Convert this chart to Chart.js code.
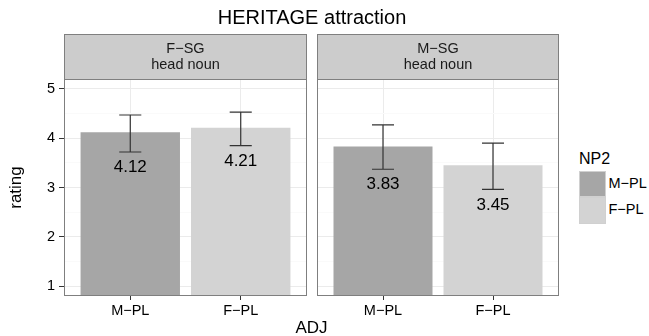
<!DOCTYPE html>
<html>
<head>
<meta charset="utf-8">
<script src="https://cdn.jsdelivr.net/npm/chart.js@4.4.1/dist/chart.umd.min.js"></script>
<style>
  body { margin: 0; background: #fff; font-family: "Liberation Sans", Arial, sans-serif; }
  #wrap { position: relative; width: 649px; height: 336px; overflow: hidden; }
  canvas { position: absolute; top: 0; }
  .txt { position: absolute; white-space: nowrap; color: #000; }
  .key { position: absolute; box-sizing: border-box; border: 1px solid #d0d0d0; }
</style>
</head>
<body>
<div id="wrap">
  <canvas id="fsgChart" width="310" height="336" style="left:0"></canvas>
  <canvas id="msgChart" width="250" height="336" style="left:310px"></canvas>
  <div class="txt" style="left:312px;top:7px;font-size:20px;line-height:20px;transform:translateX(-50%)">HERITAGE attraction</div>
  <div class="txt" style="left:311.5px;top:319px;font-size:17px;line-height:17px;transform:translateX(-50%)">ADJ</div>
  <div class="txt" style="left:579px;top:151px;font-size:16px;line-height:16px">NP2</div>
  <div id="legend"></div>
</div>
<script>
// categories and panels
const adjLabels = ['M\u2212PL', 'F\u2212PL'];
const np2Labels = ['M\u2212PL', 'F\u2212PL'];
const panelNames = ['F\u2212SG', 'M\u2212SG'];
const barColors = ['#a6a6a6', '#d3d3d3'];
const yTicks = [1, 2, 3, 4, 5];

// mean ratings with error bar bounds, per head noun panel
const fsgMeans = [4.12, 4.21];
const fsgLow = [3.72, 3.85];
const fsgHigh = [4.47, 4.53];
const msgMeans = [3.83, 3.45];
const msgLow = [3.37, 2.96];
const msgHigh = [4.27, 3.90];

const FONT = '"Liberation Sans", Arial, sans-serif';

// error bars + value labels under the lower whisker
const errorBars = {
  id: 'errorBars',
  afterDatasetsDraw(chart, args, opts) {
    const { ctx, scales: { x, y } } = chart;
    ctx.save();
    opts.means.forEach((m, i) => {
      const cx = x.getPixelForValue(i + 1);
      const half = x.getPixelForValue(i + 1.1) - cx;
      const yLo = y.getPixelForValue(opts.low[i]);
      const yHi = y.getPixelForValue(opts.high[i]);
      ctx.strokeStyle = '#333';
      ctx.lineWidth = 1.2;
      ctx.beginPath();
      ctx.moveTo(cx, yHi); ctx.lineTo(cx, yLo);
      ctx.moveTo(cx - half, yHi); ctx.lineTo(cx + half, yHi);
      ctx.moveTo(cx - half, yLo); ctx.lineTo(cx + half, yLo);
      ctx.stroke();
      ctx.fillStyle = '#000';
      ctx.font = '17px ' + FONT;
      ctx.textAlign = 'center';
      ctx.textBaseline = 'middle';
      ctx.fillText(m.toFixed(2), cx, yLo + 15.5);
    });
    ctx.restore();
  }
};

// panel border and facet strip
const panelFrame = {
  id: 'panelFrame',
  afterDraw(chart, args, opts) {
    const { ctx, chartArea: a } = chart;
    ctx.save();
    ctx.strokeStyle = '#7f7f7f';
    ctx.lineWidth = 1;
    ctx.strokeRect(a.left + 0.5, a.top + 0.5, a.width - 1, a.height - 1);
    ctx.fillStyle = '#cccccc';
    ctx.fillRect(a.left, 34, a.width, a.top - 34);
    ctx.strokeRect(a.left + 0.5, 34.5, a.width - 1, a.top - 34);
    ctx.fillStyle = '#1a1a1a';
    ctx.font = '14.5px ' + FONT;
    ctx.textAlign = 'center';
    ctx.textBaseline = 'middle';
    const mid = (a.left + a.right) / 2;
    ctx.fillText(opts.lines[0], mid, 48.5);
    ctx.fillText(opts.lines[1], mid, 64.5);
    ctx.restore();
  }
};

const isMajor = ctx => ctx.tick && Number.isInteger(ctx.tick.value);

function makePanel(id, name, means, low, high, showY) {
  new Chart(document.getElementById(id), {
    type: 'bar',
    data: {
      datasets: [{
        data: means.map((v, i) => ({ x: i + 1, y: v })),
        backgroundColor: barColors,
        categoryPercentage: 0.9,
        barPercentage: 1
      }]
    },
    options: {
      responsive: false,
      animation: false,
      events: [],
      layout: { padding: showY ? { top: 79, right: 3, left: 0, bottom: 0 } : { top: 79, right: 1, left: 7, bottom: 0 } },
      plugins: {
        legend: { display: false },
        tooltip: { enabled: false },
        errorBars: { means: means, low: low, high: high },
        panelFrame: { lines: [name, 'head noun'] }
      },
      scales: {
        x: {
          type: 'linear',
          min: 0.4,
          max: 2.6,
          bounds: 'data',
          offset: false,
          afterBuildTicks: s => { s.ticks = adjLabels.map((l, i) => ({ value: i + 1 })); },
          afterFit: s => { s.height = 40; },
          border: { display: false },
          grid: { color: '#ebebeb', tickColor: '#333', tickLength: 4, drawTicks: true, offset: false },
          ticks: {
            callback: (v, i) => adjLabels[i],
            color: '#000',
            font: { family: FONT, size: 14.5 },
            padding: 2,
            maxRotation: 0
          }
        },
        y: {
          min: 0.8,
          max: 5.2,
          afterBuildTicks: s => {
            s.ticks = yTicks.flatMap(v => v < 5 ? [v, v + 0.5] : [v]).map(v => ({ value: v }));
          },
          afterFit: s => { s.width = showY ? 64 : 0; },
          border: { display: false },
          grid: {
            color: c => isMajor(c) ? '#ebebeb' : '#fafafa',
            tickColor: c => isMajor(c) ? '#333' : 'rgba(0,0,0,0)',
            tickLength: 5,
            drawTicks: showY
          },
          ticks: {
            display: showY,
            callback: v => Number.isInteger(v) ? String(v) : '',
            color: '#000',
            font: { family: FONT, size: 14.5 },
            padding: 4
          },
          title: {
            display: showY,
            text: 'rating',
            color: '#000',
            font: { family: FONT, size: 17 },
            padding: { top: 6, bottom: 0 }
          }
        }
      }
    },
    plugins: [errorBars, panelFrame]
  });
}

makePanel('fsgChart', panelNames[0], fsgMeans, fsgLow, fsgHigh, true);
makePanel('msgChart', panelNames[1], msgMeans, msgLow, msgHigh, false);

// legend keys for NP2
const legend = document.getElementById('legend');
const keyTops = [171, 197];
np2Labels.forEach((lab, i) => {
  const k = document.createElement('div');
  k.className = 'key';
  k.style.cssText = `left:579px;top:${keyTops[i]}px;width:27px;height:${i ? 27 : 26}px;background:${barColors[i]}`;
  legend.appendChild(k);
  const t = document.createElement('div');
  t.className = 'txt';
  t.style.cssText = `left:608.5px;top:${keyTops[i] + 5}px;font-size:14.5px;line-height:14.5px`;
  t.textContent = lab;
  legend.appendChild(t);
});
</script>
</body>
</html>
